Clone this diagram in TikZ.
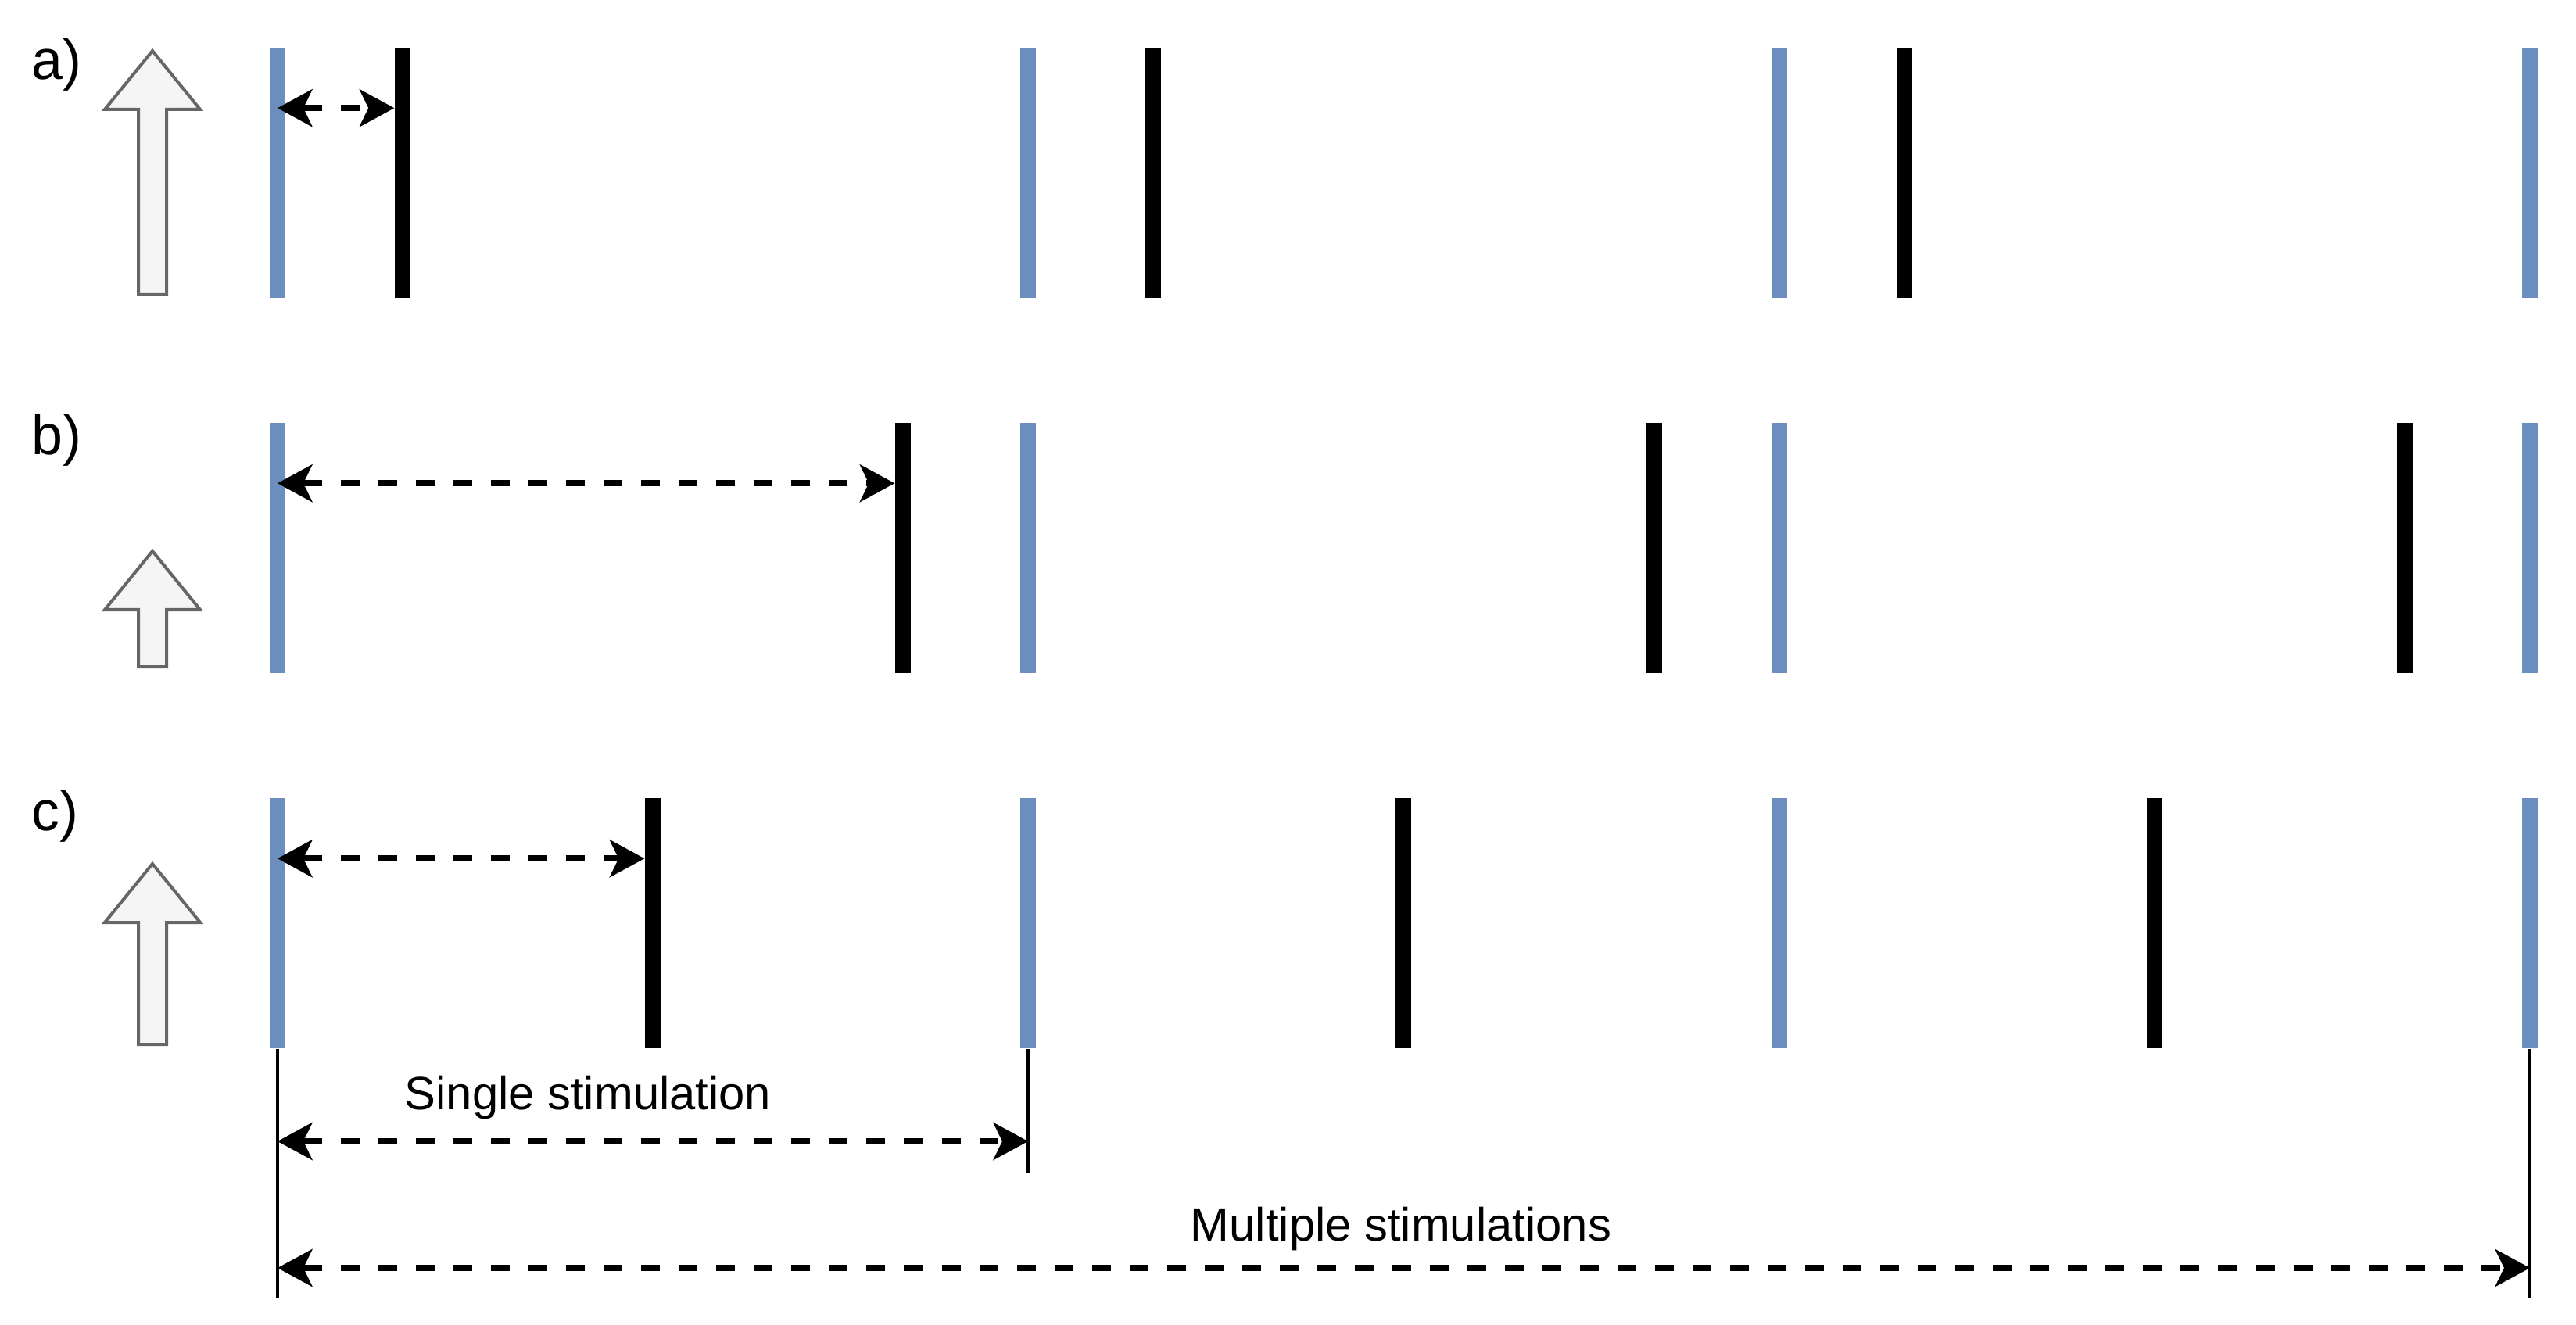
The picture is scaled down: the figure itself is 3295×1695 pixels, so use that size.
\documentclass[tikz,border=0pt]{standalone}
\usepackage{fontspec}
\setmainfont{Liberation Sans}
\usepackage{tikz}
\usetikzlibrary{positioning,arrows.meta,calc}
\definecolor{stimblue}{HTML}{6C8EBF}
\definecolor{arrgrey}{HTML}{666666}
\definecolor{arrfill}{HTML}{F5F5F5}
\tikzset{
  stimbar/.style={rectangle,fill=stimblue,minimum width=2mm,minimum height=32mm,inner sep=0pt},
  respbar/.style={rectangle,fill=black,minimum width=2mm,minimum height=32mm,inner sep=0pt},
  delay/.style={<->,>={Stealth[length=4.5mm,width=4.9mm,inset=1.2mm,line width=0pt]},
    line width=0.8mm,dash pattern=on 2.4mm off 2.4mm},
  guide/.style={line width=0.4mm},
  blockup/.style={draw=arrgrey,fill=arrfill,line width=0.4mm,line join=miter},
  rowlbl/.style={font=\fontsize{20.4pt}{24pt}\selectfont,inner sep=0pt,anchor=base west},
  spanlbl/.style={font=\fontsize{17pt}{20pt}\selectfont,inner sep=0pt,anchor=base},
}
\begin{document}
\begin{tikzpicture}[x=0.01cm,y=-0.01cm]
  \useasboundingbox (0,0) rectangle (3295,1695);
  % stimulation bars
  \foreach \r/\y in {a/221,b/701,c/1181}{
    \foreach \i/\x in {1/355,2/1315,3/2276,4/3236}
      \node[stimbar] (s\r\i) at (\x,\y) {};
  }
  % responses
  \foreach \i/\x in {1/515,2/1475,3/2436} \node[respbar] (ra\i) at (\x,221) {};
  \foreach \i/\x in {1/1155,2/2116,3/3076} \node[respbar] (rb\i) at (\x,701) {};
  \foreach \i/\x in {1/835,2/1795,3/2756} \node[respbar] (rc\i) at (\x,1181) {};
  \draw[delay] ([yshift=-7.8mm]sa1.north) -- ([yshift=-7.8mm]ra1.north west);
  \draw[delay] ([yshift=-7.8mm]sb1.north) -- ([yshift=-7.8mm]rb1.north west);
  \draw[delay] ([yshift=-7.8mm]sc1.north) -- ([yshift=-7.8mm]rc1.north west);
  % row labels
  \node[rowlbl] (la) at (40,102) {a)};
  \node[rowlbl] (lb) at (40,582) {b)};
  \node[rowlbl] (lc) at (40,1062) {c)};
  % intensity arrows
  \foreach \t/\b in {65/377,705/853,1105/1336}
    \draw[blockup] (195,\t) -- (256,\t+75) -- (213,\t+75) -- (213,\b) -- (177,\b)
      -- (177,\t+75) -- (134,\t+75) -- cycle;
  % durations
  \coordinate (ysingle) at (0,1460);
  \coordinate (ymulti) at (0,1622);
  \coordinate (yend) at (0,1660);
  \coordinate (yendsingle) at (0,1500);
  \draw[guide] (sc1.south) -- (sc1.south |- yend);
  \draw[guide] (sc2.south) -- (sc2.south |- yendsingle);
  \draw[guide] (sc4.south) -- (sc4.south |- yend);
  \draw[delay] (sc1 |- ysingle) -- (sc2 |- ysingle);
  \draw[delay] (sc1 |- ymulti) -- (sc4 |- ymulti);
  \node[spanlbl] (single) at (752,1419) {Single stimulation};
  \node[spanlbl] (multi) at (1792,1587) {Multiple stimulations};
\end{tikzpicture}
\end{document}
